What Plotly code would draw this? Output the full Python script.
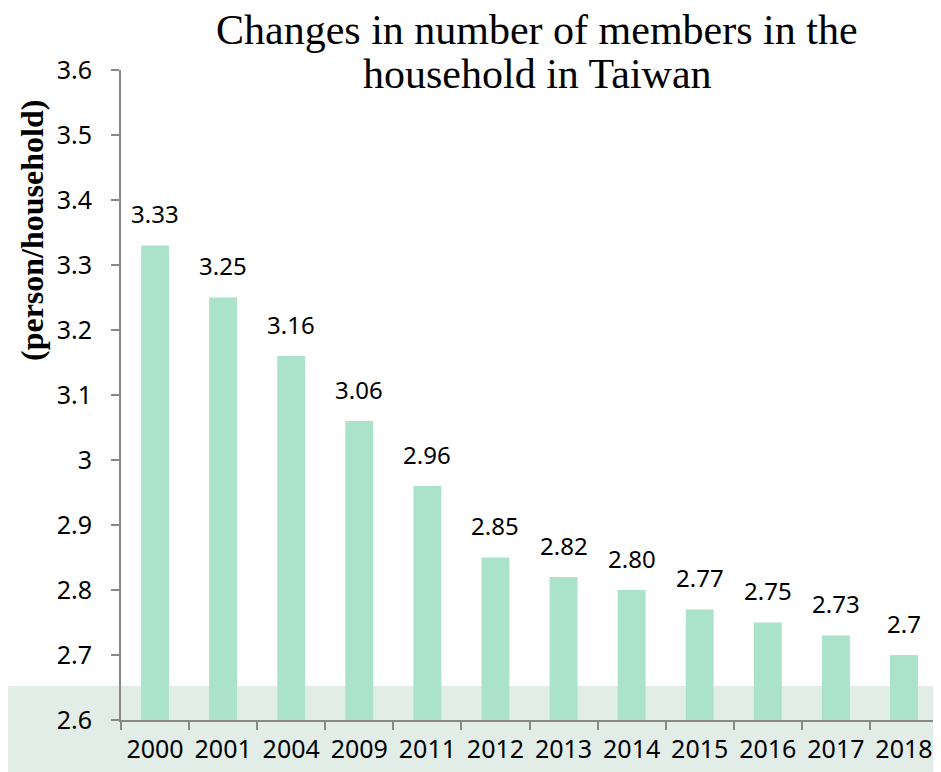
import plotly.graph_objects as go

years = ["2000", "2001", "2004", "2009", "2011", "2012", "2013", "2014", "2015", "2016", "2017", "2018"]
members = [3.33, 3.25, 3.16, 3.06, 2.96, 2.85, 2.82, 2.80, 2.77, 2.75, 2.73, 2.70]
value_labels = ["3.33", "3.25", "3.16", "3.06", "2.96", "2.85", "2.82", "2.80", "2.77", "2.75", "2.73", "2.7"]
y_ticks = [2.6, 2.7, 2.8, 2.9, 3.0, 3.1, 3.2, 3.3, 3.4, 3.5, 3.6]
y_tick_text = ["2.6", "2.7", "2.8", "2.9", "3", "3.1", "3.2", "3.3", "3.4", "3.5", "3.6"]

OFF = 8  # page body margin
W, H = 941 - OFF, 772 - OFF
L, T = 121 - OFF, 70 - OFF
R, B = 3, 52
pw, ph = W - L - R, H - T - B

def px_x(x):
    return (x - OFF - L) / pw

def px_y(y):
    return (H - B - (y - OFF)) / ph

sans = "Noto Sans"
serif = "Liberation Serif"

fig = go.Figure()
fig.add_trace(go.Bar(
    x=years, y=members, marker=dict(color="#aae3ca", line=dict(width=0)),
    width=0.41, hoverinfo="x+y",
))

annotations = []
for i, (v, lab) in enumerate(zip(members, value_labels)):
    annotations.append(dict(x=i, y=v, xref="x", yref="y", text=lab, showarrow=False,
                            yanchor="middle", yshift=32,
                            font=dict(family=sans, size=24, color="#000")))

annotations.append(dict(x=px_x(537), y=px_y(30), xref="paper", yref="paper",
                        text="Changes in number of members in the", showarrow=False,
                        xanchor="center", yanchor="middle",
                        font=dict(family=serif, size=42, color="#000")))
annotations.append(dict(x=px_x(537), y=px_y(74), xref="paper", yref="paper",
                        text="household in Taiwan", showarrow=False,
                        xanchor="center", yanchor="middle",
                        font=dict(family=serif, size=42, color="#000")))
annotations.append(dict(x=px_x(32), y=px_y(231), xref="paper", yref="paper",
                        text="<b>(person/household)</b>", showarrow=False, textangle=-90,
                        xanchor="center", yanchor="middle",
                        font=dict(family=serif, size=32, color="#000")))

shapes = [
    dict(type="rect", xref="paper", yref="paper", x0=px_x(OFF), x1=px_x(941 + 10),
         y0=px_y(772 + 10), y1=px_y(686), fillcolor="#e3ede8", line=dict(width=0), layer="below"),
]

fig.update_layout(
    width=W, height=H,
    margin=dict(l=L, r=R, t=T, b=B, pad=0, autoexpand=False),
    paper_bgcolor="white", plot_bgcolor="rgba(0,0,0,0)",
    showlegend=False, bargap=0.59,
    annotations=annotations, shapes=shapes,
    xaxis=dict(type="category", range=[-0.5, 11.5], showgrid=False, showline=True,
               linecolor="#888", linewidth=2, automargin=False, tickangle=0,
               ticks="outside", tickson="boundaries", ticklen=8, tickcolor="#888", tickwidth=2,
               ticklabelstandoff=6,
               tickfont=dict(family=sans, size=25, color="#000"), zeroline=False),
    yaxis=dict(range=[2.6, 3.6], tickvals=y_ticks, ticktext=y_tick_text, showgrid=False,
               showline=True, linecolor="#888", linewidth=2, ticks="outside", ticklen=8,
               automargin=False, ticklabelstandoff=14,
               tickcolor="#888", tickwidth=2, zeroline=False,
               tickfont=dict(family=sans, size=25, color="#000")),
)

fig.write_html("out.html")
